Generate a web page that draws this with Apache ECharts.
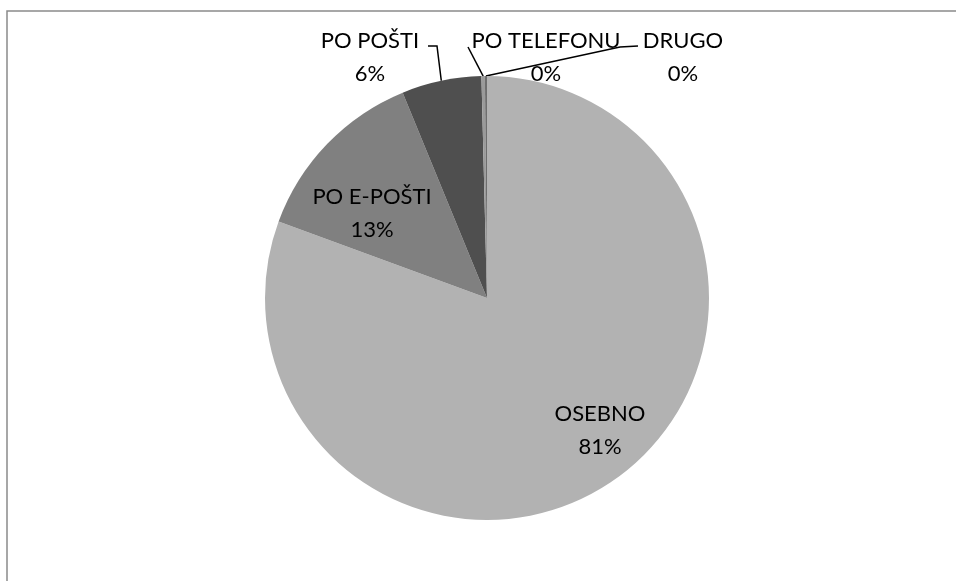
<!DOCTYPE html>
<html>
<head>
<meta charset="utf-8">
<script src="https://cdn.jsdelivr.net/npm/echarts@6/dist/echarts.min.js"></script>
<style>
  html, body { margin: 0; padding: 0; background: #fff; }
  #chart { width: 956px; height: 581px; }
</style>
</head>
<body>
<div id="chart"></div>
<script>
// podatki (deleži v %)
const categories = ['OSEBNO', 'PO E-POŠTI', 'PO POŠTI', 'PO TELEFONU', 'DRUGO'];
const values = [80.6, 13.2, 5.8, 0.25, 0.15];
const colors = ['#b2b2b2', '#808080', '#4f4f4f', '#9a9a9a', '#6e6e6e'];

// kam postavimo oznake (sredina besedila) in kolena črt
const labelPos = [[600, 430], [372, 213], [370, 57], [546, 57], [683, 57]];
const lineKnees = [null, null, [[437, 46], [428, 46]], [[468, 47], [468, 47]], [[620, 47], [638, 46]]];

const chart = echarts.init(document.getElementById('chart'));

const option = {
  animation: false,
  graphic: [{
    type: 'rect',
    shape: { x: 7, y: 11, width: 1000, height: 700 },
    style: { fill: 'none', stroke: '#8a8a8a', lineWidth: 1.5 },
    silent: true
  }],
  series: [{
    type: 'pie',
    center: [487, 298],
    radius: 222,
    startAngle: 90,
    clockwise: true,
    percentPrecision: 0,
    avoidLabelOverlap: false,
    data: categories.map((name, i) => ({
      name: name,
      value: values[i],
      itemStyle: { color: colors[i] },
      labelLine: { show: i >= 2 }
    })),
    itemStyle: { borderWidth: 0 },
    label: {
      show: true,
      position: 'outside',
      formatter: '{b}\n{d}%',
      fontFamily: 'Lato, "Noto Sans", sans-serif',
      fontSize: 22,
      lineHeight: 33,
      color: '#000',
      align: 'center'
    },
    labelLine: {
      lineStyle: { color: '#000', width: 1.5 }
    },
    emphasis: { disabled: true },
    labelLayout: function (params) {
      const i = params.dataIndex;
      const res = {
        x: labelPos[i][0],
        y: labelPos[i][1],
        align: 'center',
        verticalAlign: 'middle'
      };
      if (lineKnees[i] && params.labelLinePoints) {
        const start = params.labelLinePoints[0];
        res.labelLinePoints = [start, lineKnees[i][0], lineKnees[i][1]];
      }
      return res;
    }
  }]
};

chart.setOption(option);
</script>
</body>
</html>
